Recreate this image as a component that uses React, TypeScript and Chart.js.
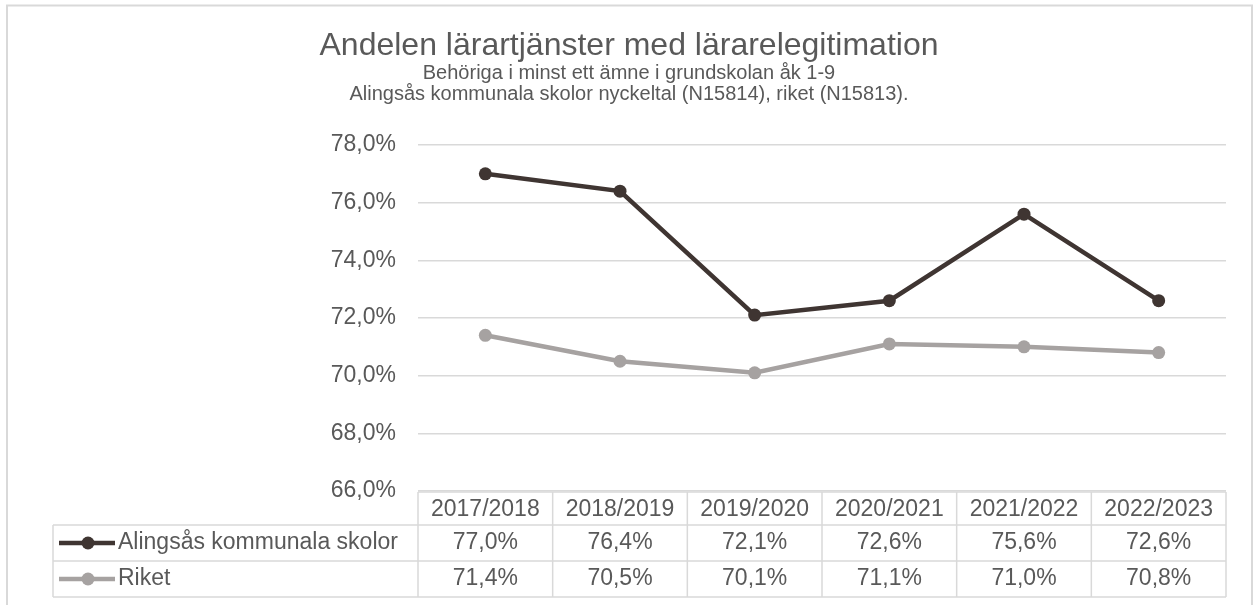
import React, { useEffect, useRef } from 'react';
import { Chart, registerables } from 'chart.js';

Chart.register(...registerables);

const categories: string[] = ['2017/2018', '2018/2019', '2019/2020', '2020/2021', '2021/2022', '2022/2023'];
const alingsasValues: number[] = [77.0, 76.4, 72.1, 72.6, 75.6, 72.6];
const riketValues: number[] = [71.4, 70.5, 70.1, 71.1, 71.0, 70.8];
const seriesNames: string[] = ['Alingsås kommunala skolor', 'Riket'];
const seriesColors: string[] = ['#3f3532', '#a6a2a1'];
const yMin = 66;
const yMax = 78;
const yStep = 2;
const titleText = 'Andelen lärartjänster med lärarelegitimation';
const subtitleLines: string[] = [
  'Behöriga i minst ett ämne i grundskolan åk 1-9',
  'Alingsås kommunala skolor nyckeltal (N15814), riket (N15813).',
];

const FONT = '"Liberation Sans", Arial, sans-serif';
const TEXT_COLOR = '#595959';
const LINE_COLOR = '#d9d9d9';

const fmt = (v: number) => v.toFixed(1).replace('.', ',') + '%';

const framePlugin = {
  id: 'frameAndTitle',
  beforeDraw(chart: any) {
    const ctx = chart.ctx;
    ctx.save();
    ctx.fillStyle = '#ffffff';
    ctx.fillRect(0, 0, chart.width, chart.height);
    ctx.strokeStyle = LINE_COLOR;
    ctx.lineWidth = 2;
    ctx.strokeRect(7, 5.5, 1245, 640);
    ctx.fillStyle = TEXT_COLOR;
    ctx.textAlign = 'center';
    ctx.textBaseline = 'middle';
    ctx.font = `32px ${FONT}`;
    ctx.fillText(titleText, 629, 46);
    ctx.font = `20px ${FONT}`;
    ctx.fillText(subtitleLines[0], 629, 73);
    ctx.fillText(subtitleLines[1], 629, 94);
    ctx.restore();
  },
};

const tablePlugin = {
  id: 'dataTable',
  afterDraw(chart: any) {
    const ctx = chart.ctx;
    const area = chart.chartArea;
    const xs = chart.scales.x;
    const n = categories.length;
    const left = area.left;
    const right = area.right;
    const colW = (right - left) / n;
    const labelLeft = 53;
    const headerTop = area.bottom + 1;
    const headerH = 33;
    const rowH = 36;
    const row1Top = headerTop + headerH;
    const row2Top = row1Top + rowH;
    const tableBottom = row2Top + rowH;
    const datasets = chart.data.datasets;

    ctx.save();
    ctx.strokeStyle = LINE_COLOR;
    ctx.lineWidth = 1.5;
    ctx.beginPath();
    ctx.moveTo(left, headerTop);
    ctx.lineTo(right, headerTop);
    [row1Top, row2Top, tableBottom].forEach((y) => {
      ctx.moveTo(labelLeft, y);
      ctx.lineTo(right, y);
    });
    ctx.moveTo(labelLeft, row1Top);
    ctx.lineTo(labelLeft, tableBottom);
    for (let i = 0; i <= n; i++) {
      const xx = left + i * colW;
      ctx.moveTo(xx, headerTop);
      ctx.lineTo(xx, tableBottom);
    }
    ctx.stroke();

    ctx.fillStyle = TEXT_COLOR;
    ctx.font = `23px ${FONT}`;
    ctx.textAlign = 'center';
    ctx.textBaseline = 'middle';
    categories.forEach((c, i) => {
      const cx = xs.getPixelForValue(i);
      ctx.fillText(c, cx, headerTop + headerH / 2 + 1);
    });
    const rowTops = [row1Top, row2Top];
    datasets.forEach((ds: any, di: number) => {
      const cy = rowTops[di] + rowH / 2;
      ds.data.forEach((v: number, i: number) => {
        const cx = xs.getPixelForValue(i);
        ctx.fillStyle = TEXT_COLOR;
        ctx.textAlign = 'center';
        ctx.fillText(fmt(v), cx, cy);
      });
      // legend key
      ctx.strokeStyle = ds.borderColor;
      ctx.lineWidth = 4.5;
      ctx.beginPath();
      ctx.moveTo(59, cy);
      ctx.lineTo(115, cy);
      ctx.stroke();
      ctx.fillStyle = ds.borderColor;
      ctx.beginPath();
      ctx.arc(88, cy, 6.5, 0, Math.PI * 2);
      ctx.fill();
      ctx.fillStyle = TEXT_COLOR;
      ctx.textAlign = 'left';
      ctx.fillText(ds.label, 118, cy);
    });
    ctx.restore();
  },
};

export default function App() {
  const canvasRef = useRef<HTMLCanvasElement | null>(null);

  useEffect(() => {
    if (!canvasRef.current) return;
    const chart = new Chart(canvasRef.current, {
      type: 'line',
      data: {
        labels: categories,
        datasets: [
          {
            label: seriesNames[0],
            data: alingsasValues,
            borderColor: seriesColors[0],
            backgroundColor: seriesColors[0],
            borderWidth: 4.5,
            pointRadius: 6.5,
            pointBackgroundColor: seriesColors[0],
            pointBorderColor: seriesColors[0],
            pointBorderWidth: 0,
            tension: 0,
          },
          {
            label: seriesNames[1],
            data: riketValues,
            borderColor: seriesColors[1],
            backgroundColor: seriesColors[1],
            borderWidth: 4.5,
            pointRadius: 6.5,
            pointBackgroundColor: seriesColors[1],
            pointBorderColor: seriesColors[1],
            pointBorderWidth: 0,
            tension: 0,
          },
        ],
      },
      options: {
        responsive: false,
        animation: false,
        devicePixelRatio: 1,
        layout: { padding: { top: 145, bottom: 114, left: 0, right: 28 } },
        plugins: {
          legend: { display: false },
          title: { display: false },
          tooltip: { enabled: false },
        },
        scales: {
          x: {
            type: 'category',
            display: false,
            offset: true,
          },
          y: {
            min: yMin,
            max: yMax,
            afterFit(scale: any) {
              scale.width = 418;
            },
            ticks: {
              stepSize: yStep,
              padding: 22,
              color: TEXT_COLOR,
              font: { family: FONT, size: 23 },
              callback: (v: any) => fmt(Number(v)),
            },
            border: { display: false },
            grid: { color: LINE_COLOR, lineWidth: 1.5, drawTicks: false },
          },
        },
      },
      plugins: [framePlugin, tablePlugin],
    });
    return () => chart.destroy();
  }, []);

  return (
    <div style={{ position: 'fixed', left: 0, top: 0, width: 1254, height: 605, background: '#fff' }}>
      <canvas ref={canvasRef} width={1254} height={605} style={{ display: 'block' }} />
    </div>
  );
}
